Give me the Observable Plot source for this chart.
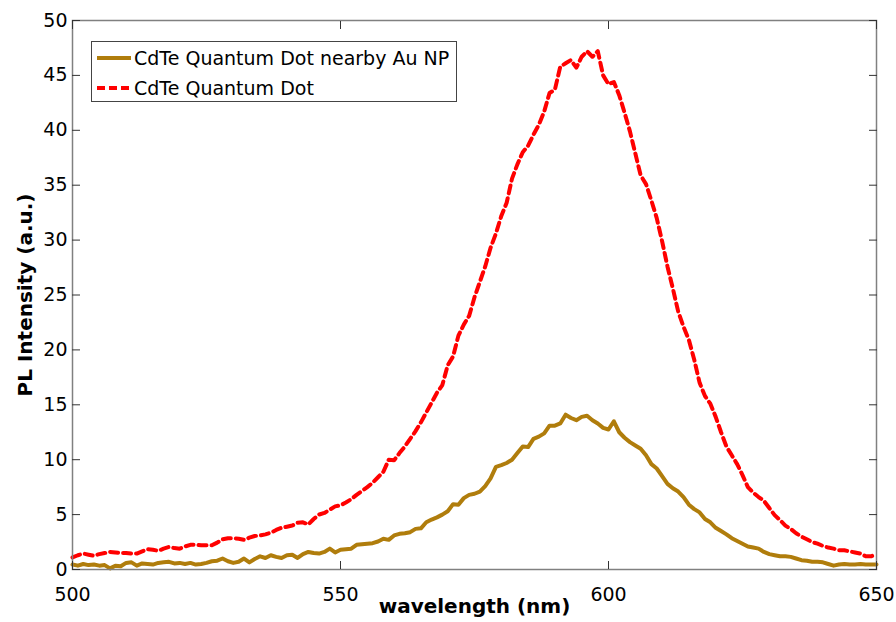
<!DOCTYPE html>
<html><head><meta charset="utf-8">
<script src="https://cdn.jsdelivr.net/npm/d3@7"></script>
<script src="https://cdn.jsdelivr.net/npm/@observablehq/plot@0.6"></script>
<style>
body{margin:0;background:#fff}
#wrap{position:relative;width:896px;height:622px}
.legend{position:absolute;left:91px;top:41px;width:364px;height:59px;border:1px solid #444;background:#fff;font:19px "DejaVu Sans",sans-serif;color:#000}
.legend .row{position:absolute;left:5px;height:24px;display:flex;align-items:center;white-space:nowrap}
.legend svg{margin-right:3px}
</style></head><body><div id="wrap"></div>
<script>
// Wavelength grid (nm)
const wavelength = d3.range(500, 651, 1);
// CdTe Quantum Dot nearby Au NP
const plAu = [0.45,0.35,0.5,0.4,0.45,0.35,0.4,0.1,0.35,0.3,
0.6,0.65,0.35,0.55,0.5,0.45,0.6,0.65,0.7,0.55,
0.6,0.5,0.6,0.45,0.5,0.6,0.75,0.8,1.0,0.75,
0.6,0.7,1.0,0.65,0.95,1.2,1.05,1.3,1.15,1.05,
1.3,1.35,1.05,1.4,1.6,1.5,1.45,1.6,1.9,1.55,
1.8,1.85,1.9,2.25,2.3,2.35,2.4,2.55,2.8,2.7,
3.1,3.25,3.3,3.4,3.7,3.75,4.3,4.55,4.75,5.0,
5.3,5.95,5.9,6.5,6.8,6.9,7.1,7.6,8.3,9.35,
9.5,9.7,10.0,10.6,11.2,11.15,11.9,12.1,12.4,13.1,
13.1,13.3,14.1,13.8,13.6,13.9,14.0,13.6,13.3,12.9,
12.75,13.5,12.5,12.0,11.6,11.3,11.0,10.4,9.6,9.2,
8.5,7.8,7.4,7.1,6.6,5.9,5.5,5.2,4.6,4.3,
3.8,3.5,3.2,2.85,2.6,2.35,2.1,2.0,1.9,1.6,
1.4,1.3,1.2,1.2,1.15,1.0,0.85,0.8,0.7,0.7,
0.65,0.5,0.35,0.45,0.5,0.45,0.45,0.5,0.45,0.45,0.45];
// CdTe Quantum Dot
const plQD = [1.1,1.3,1.45,1.35,1.25,1.4,1.5,1.6,1.55,1.5,
1.5,1.45,1.45,1.65,1.85,1.8,1.7,1.9,2.05,1.95,
1.9,2.1,2.25,2.25,2.2,2.2,2.2,2.45,2.75,2.85,
2.85,2.8,2.7,2.9,3.05,3.1,3.2,3.35,3.6,3.8,
3.9,4.0,4.25,4.3,4.1,4.6,5.0,5.15,5.45,5.75,
5.85,6.1,6.4,6.8,7.15,7.5,7.9,8.4,8.9,10.0,
9.95,10.6,11.2,11.9,12.6,13.4,14.3,15.2,16.1,16.8,
18.6,19.4,21.3,22.3,23.1,24.8,26.2,27.6,29.3,30.6,
32.2,33.4,35.6,36.9,38.0,38.6,39.6,40.5,41.7,43.4,
43.7,45.8,46.1,46.4,45.7,46.7,47.2,46.7,47.2,45.0,
44.2,44.4,43.2,41.6,39.9,37.9,35.9,35.1,33.6,32.0,
29.9,27.6,25.6,23.5,22.1,20.9,19.1,17.0,15.8,15.1,
13.9,12.5,11.2,10.4,9.6,8.6,7.5,7.0,6.6,6.25,
5.6,4.95,4.5,4.0,3.7,3.3,3.0,2.75,2.5,2.35,
2.15,2.0,1.9,1.75,1.75,1.65,1.55,1.45,1.2,1.2,1.4];
const xTicks = [500, 550, 600, 650];
const yTicks = [0, 5, 10, 15, 20, 25, 30, 35, 40, 45, 50];
const seriesNames = ["CdTe Quantum Dot nearby Au NP", "CdTe Quantum Dot"];
const seriesColors = ["#B07D0C", "#FF0000"];
const xLabel = "wavelength (nm)";
const yLabel = "PL Intensity (a.u.)";

const auData = wavelength.map((w, i) => ({w, v: plAu[i]}));
const qdData = wavelength.map((w, i) => ({w, v: plQD[i]}));

const chart = Plot.plot({
  width: 896, height: 622,
  marginLeft: 72, marginRight: 20, marginTop: 20, marginBottom: 53,
  x: {domain: [500, 650]},
  y: {domain: [0, 50]},
  style: {fontFamily: "DejaVu Sans, sans-serif", fontSize: "19px", color: "#000", background: "#fff"},
  marks: [
    Plot.line(auData, {x: "w", y: "v", stroke: seriesColors[0], strokeWidth: 4, strokeLinejoin: "round"}),
    Plot.line(qdData, {x: "w", y: "v", stroke: seriesColors[1], strokeWidth: 4, strokeDasharray: "8,5"}),
    Plot.frame({stroke: "#808080", strokeWidth: 1.5}),
    Plot.axisX({ticks: xTicks, tickSize: -8, tickPadding: 26, label: null, stroke: "#333"}),
    Plot.axisX({anchor: "top", ticks: xTicks, tickSize: -8, tickFormat: () => "", label: null, stroke: "#333"}),
    Plot.axisY({ticks: yTicks, tickSize: -8, tickPadding: 13, label: null, stroke: "#333"}),
    Plot.axisY({anchor: "right", ticks: yTicks, tickSize: -8, tickFormat: () => "", label: null, stroke: "#333"}),
    Plot.text([xLabel], {frameAnchor: "bottom", dy: 43, fontWeight: "bold", fontSize: 20}),
    Plot.text([yLabel], {frameAnchor: "left", dx: -47, rotate: -90, textAnchor: "middle", fontWeight: "bold", fontSize: 20})
  ]
});
const wrap = document.getElementById("wrap");
wrap.appendChild(chart);

const legend = document.createElement("div");
legend.className = "legend";
seriesNames.forEach((name, i) => {
  const row = document.createElement("div");
  row.className = "row";
  row.style.top = (i === 0 ? 4 : 34) + "px";
  const dash = i === 1 ? 'stroke-dasharray="8,4"' : '';
  row.innerHTML = `<svg width="34" height="10"><line x1="0" y1="5" x2="34" y2="5" stroke="${seriesColors[i]}" stroke-width="4" ${dash}/></svg><span>${name}</span>`;
  legend.appendChild(row);
});
wrap.appendChild(legend);
</script>
</body></html>
